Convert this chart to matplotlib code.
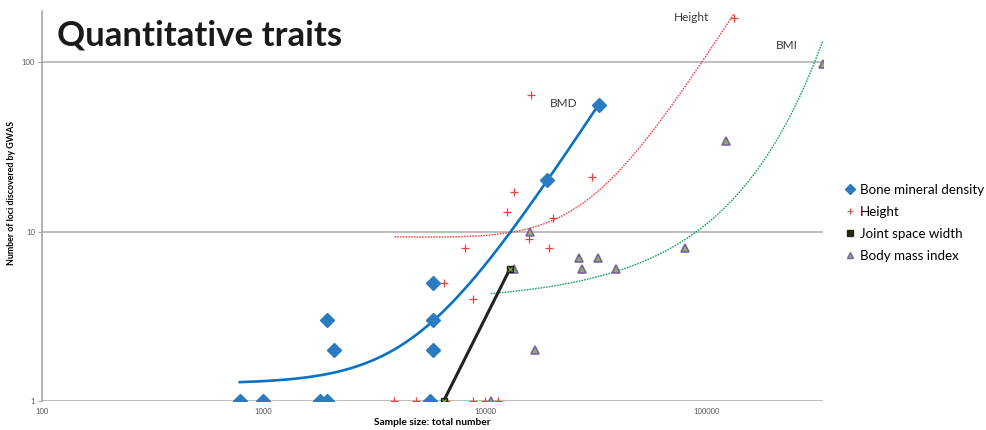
import numpy as np
import matplotlib
matplotlib.use("Agg")
import matplotlib.pyplot as plt
from matplotlib.lines import Line2D

# Sample sizes (total number) and loci discovered by GWAS, per trait
bmd_n = [781, 1000, 1794, 1929, 1929, 2075, 5623, 5850, 5850, 5850, 19000, 32600]
bmd_loci = [1, 1, 1, 1, 3, 2, 1, 3, 5, 2, 20, 56]

height_n = [3900, 4900, 6700, 8830, 10000, 11480, 6510, 8830, 8130, 12530,
            13580, 15740, 19540, 20280, 16070, 30560, 132700]
height_loci = [1, 1, 1, 1, 1, 1, 5, 4, 8, 13, 17, 9, 8, 12, 64, 21, 181]

jsw_n = [6510, 12950]
jsw_loci = [1, 6]

bmi_n = [10620, 13520, 15960, 16750, 26500, 27540, 32280, 38900, 80400, 123000, 335700]
bmi_loci = [1, 6, 10, 2, 7, 6, 7, 6, 8, 34, 97]

# polynomial trendline for height (c0 + c1*n + c2*n^2)
height_trend_coef = [9.65, -1.3e-4, 1.13e-8]

x_ticks = [100, 1000, 10000, 100000]
y_ticks = [1, 10, 100]

BLUE = "#2B7BC0"
BLUE_LINE = "#0A72C2"
RED = "#E8423E"
RED_TREND = "#F04848"
GREEN_TREND = "#14A85A"
PURPLE = "#7E62A6"
OLIVE = "#8DB255"
TEXT = "#3a3a3a"

plt.rcParams["font.family"] = ["Lato", "DejaVu Sans"]

fig = plt.figure(figsize=(9.87, 4.30), dpi=100)
ax = fig.add_axes([42 / 987, 1 - 401 / 430, (823 - 42) / 987, (401 - 11) / 430])
ax.set_xscale("log")
ax.set_yscale("log")
ax.set_xlim(100, 336000)
ax.set_ylim(1, 200)

# horizontal gridlines
for yv in y_ticks:
    ax.axhline(yv, color="#b8b8b8", lw=1.3, zorder=0)

def quad_trend(xs, ys):
    xs = np.asarray(xs, float)
    ys = np.asarray(ys, float)
    c = np.polyfit(xs, ys, 2)
    xx = np.geomspace(xs.min(), xs.max(), 400)
    return xx, np.polyval(c, xx)

def exp_trend(xs, ys):
    xs = np.asarray(xs, float)
    ys = np.asarray(ys, float)
    b, lna = np.polyfit(xs, np.log(ys), 1)
    xx = np.geomspace(xs.min(), xs.max(), 400)
    return xx, np.exp(lna + b * xx)

bx, by = quad_trend(bmd_n, bmd_loci)
ax.plot(bx, by, color=BLUE_LINE, lw=1.9, zorder=3)

hx = np.geomspace(min(height_n), max(height_n), 400)
hy = np.polynomial.polynomial.polyval(hx, height_trend_coef)
ax.plot(hx, hy, color=RED_TREND, lw=1.0, ls=(0, (1.2, 0.8)), zorder=2)

mx, my = exp_trend(bmi_n, bmi_loci)
ax.plot(mx, my, color=GREEN_TREND, lw=1.0, ls=(0, (1.2, 0.8)), zorder=2)

# series markers
ax.plot(height_n, height_loci, ls="none", marker="+", ms=6, mew=0.9, color=RED, zorder=4)
ax.plot(bmi_n, bmi_loci, ls="none", marker="^", ms=5.5, mfc=OLIVE, mec=PURPLE, mew=1.2, zorder=4)
ax.plot(bmd_n, bmd_loci, ls="none", marker="D", ms=7.5, color=BLUE, mec=BLUE, zorder=5)
ax.plot(jsw_n, jsw_loci, color="#222222", lw=2.2, zorder=5, solid_capstyle="round")
ax.plot(jsw_n, jsw_loci, ls="none", marker="s", ms=5, mfc="#1e2a14", mec="#1e2a14", zorder=6)
ax.plot(jsw_n, jsw_loci, ls="none", marker="x", ms=3.5, mew=0.8, color=OLIVE, zorder=7)

# axes styling
for side in ("top", "right", "bottom"):
    ax.spines[side].set_visible(False)
ax.spines["left"].set_color("#a6a6a6")
ax.spines["left"].set_linewidth(1.2)
ax.set_xticks(x_ticks)
ax.set_xticklabels([str(v) for v in x_ticks])
ax.set_yticks(y_ticks)
ax.set_yticklabels([str(v) for v in y_ticks])
ax.minorticks_off()
ax.tick_params(axis="x", length=0, pad=5, labelsize=5.5, labelcolor="#555555")
ax.tick_params(axis="y", length=3, color="#a6a6a6", pad=2, labelsize=5.5, labelcolor="#555555")

ax.set_xlabel("Sample size: total number", fontsize=7.3, fontweight="bold")
ax.xaxis.set_label_coords(0.5, -0.044)
ax.set_ylabel("Number of loci discovered by GWAS", fontsize=6.4, fontweight="bold")
ax.yaxis.set_label_coords(-0.033, 0.533)

# curve annotations
ax.text(22790, 57.3, "BMD", fontsize=8.5, color=TEXT, ha="center", va="center")
ax.text(85700, 182, "Height", fontsize=8.5, color=TEXT, ha="center", va="center")
ax.text(230000, 126, "BMI", fontsize=8.5, color=TEXT, ha="center", va="center")

fig.text(57 / 987, 1 - 46 / 430, "Quantitative traits", fontsize=25, fontweight="bold",
         color="#1a1a1a", ha="left", va="baseline")

handles = [
    Line2D([], [], ls="none", marker="D", ms=5, color=BLUE),
    Line2D([], [], ls="none", marker="+", ms=5, mew=0.8, color=RED),
    Line2D([], [], ls="none", marker="s", ms=5, mfc="#1e2a14", mec="#1e2a14"),
    Line2D([], [], ls="none", marker="^", ms=5, mfc=OLIVE, mec=PURPLE),
]
labels = ["Bone mineral density", "Height", "Joint space width", "Body mass index"]
fig.legend(handles, labels, loc="upper left", bbox_to_anchor=(846 / 987, 1 - 184 / 430),
           frameon=False, fontsize=9.6, handlelength=0.6, handletextpad=0.45,
           labelspacing=0.75, borderaxespad=0, borderpad=0)

fig.savefig("out.png", dpi=100)
